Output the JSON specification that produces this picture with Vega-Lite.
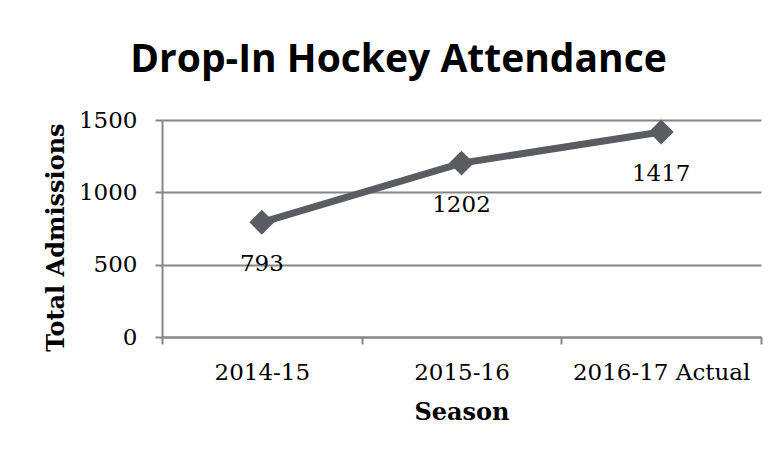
{
  "$schema": "https://vega.github.io/schema/vega-lite/v6.json",
  "autosize": "none",
  "width": 599,
  "height": 217,
  "padding": {"left": 162, "top": 120, "right": 18, "bottom": 120},
  "background": "white",
  "title": {
    "text": "Drop-In Hockey Attendance",
    "font": "Open Sans",
    "fontWeight": "bold",
    "fontSize": 39,
    "color": "#000000",
    "anchor": "middle",
    "baseline": "alphabetic",
    "offset": -2,
    "dx": -63
  },
  "data": {
    "values": [
      {"Season": "2014-15", "Admissions": 793},
      {"Season": "2015-16", "Admissions": 1202},
      {"Season": "2016-17 Actual", "Admissions": 1417}
    ]
  },
  "encoding": {
    "x": {
      "field": "Season",
      "type": "nominal",
      "sort": null,
      "scale": {"type": "band", "paddingInner": 0, "paddingOuter": 0},
      "axis": {
        "title": "Season",
        "labelAngle": 0,
        "tickBand": "extent",
        "grid": false,
        "tickSize": 7,
        "labelPadding": 17,
        "titlePadding": 16
      }
    },
    "y": {
      "field": "Admissions",
      "type": "quantitative",
      "scale": {"domain": [0, 1500], "nice": false},
      "axis": {
        "title": "Total Admissions",
        "values": [0, 500, 1000, 1500],
        "format": "d",
        "tickSize": 7,
        "labelPadding": 18,
        "titlePadding": 10,
        "titleY": 117,
        "grid": true
      }
    }
  },
  "layer": [
    {
      "mark": {"type": "line", "color": "#595c61", "strokeWidth": 7}
    },
    {
      "mark": {"type": "point", "shape": "diamond", "filled": true, "color": "#595c61", "size": 620, "opacity": 1}
    },
    {
      "mark": {"type": "text", "dy": 42, "baseline": "middle", "align": "center", "font": "DejaVu Serif", "fontSize": 23, "color": "#000000"},
      "encoding": {"text": {"field": "Admissions", "type": "quantitative"}}
    }
  ],
  "config": {
    "view": {"stroke": null},
    "axis": {
      "domainColor": "#868686",
      "domainWidth": 2,
      "tickColor": "#868686",
      "tickWidth": 2,
      "gridColor": "#868686",
      "gridWidth": 2,
      "gridOpacity": 1,
      "labelFont": "DejaVu Serif",
      "labelFontSize": 23,
      "labelColor": "#000000",
      "titleFont": "DejaVu Serif",
      "titleFontSize": 24,
      "titleFontWeight": "bold",
      "titleColor": "#000000"
    }
  }
}
